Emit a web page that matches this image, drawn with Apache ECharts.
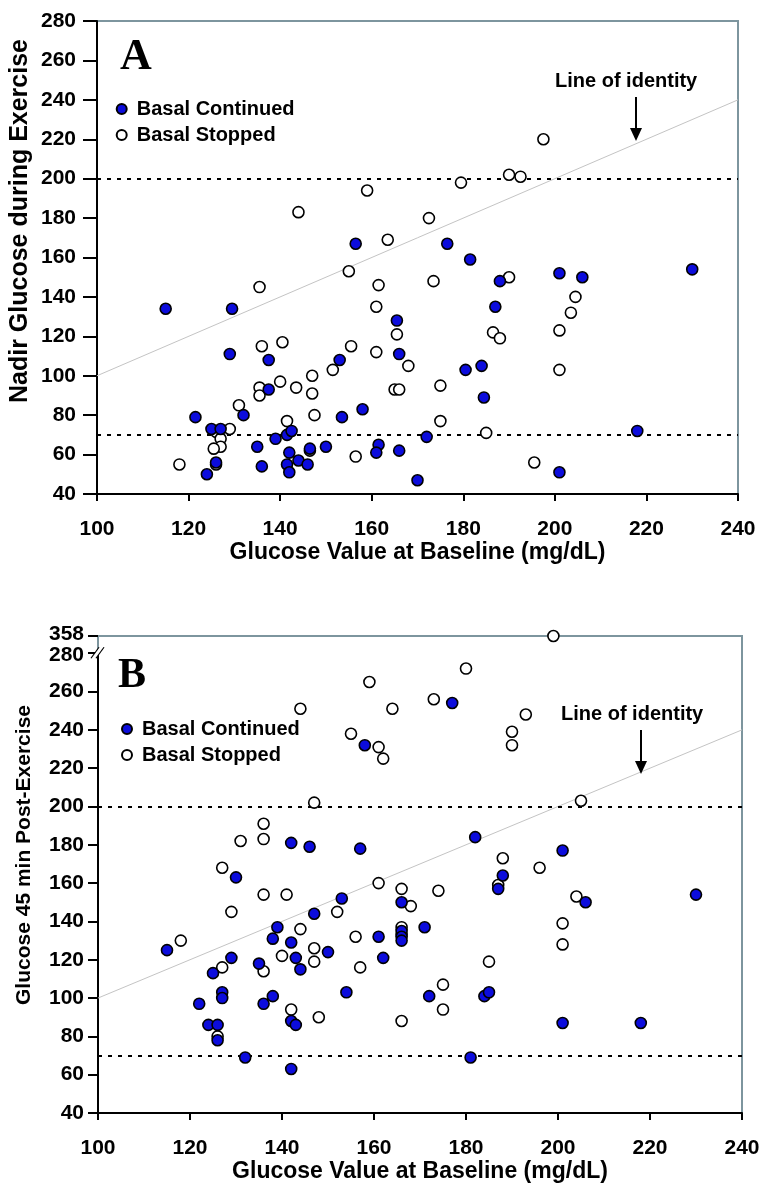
<!DOCTYPE html>
<html>
<head>
<meta charset="utf-8">
<script src="https://cdn.jsdelivr.net/npm/echarts@6/dist/echarts.min.js"></script>
<style>
html,body{margin:0;padding:0;background:#fff;}
#chart{width:771px;height:1190px;}
</style>
</head>
<body>
<div id="chart"></div>
<script>
// ---------- DATA ----------
const xTicks = [100, 120, 140, 160, 180, 200, 220, 240];
const seriesNames = ['Basal Continued', 'Basal Stopped'];

// Panel A: Nadir glucose during exercise
const aContX = [115, 129.5, 129, 137.5, 137.5, 121.5, 125, 127, 132, 135, 139, 141.5, 142.5, 142, 141.5, 142, 144, 146, 146.5, 150, 153, 153.5, 158, 165.5, 166, 161.5, 161, 166, 136, 126, 124, 170, 156.5, 176.5, 181.5, 188, 187, 201, 206, 230, 180.5, 184, 184.5, 172, 218, 201];
const aContY = [134, 134, 111, 108, 93, 79, 73, 73, 80, 64, 68, 70, 72, 61, 55, 51, 57, 55, 63, 64, 108, 79, 83, 128, 111, 65, 61, 62, 54, 56, 50, 47, 167, 167, 159, 148, 135, 152, 150, 154, 103, 105, 89, 69, 72, 51];
const aStopX = [159, 144, 163.5, 155, 161.5, 135.5, 161, 197.5, 179.5, 190, 192.5, 172.5, 173.5, 190, 204.5, 203.5, 165.5, 161, 136, 140.5, 155.5, 151.5, 168, 147, 147, 140, 143.5, 135.5, 135.5, 165, 166, 131, 147.5, 141.5, 129, 126, 127, 127, 125.5, 126, 118, 146.5, 156.5, 201, 186.5, 188, 201, 175, 175, 185, 195.5];
const aStopY = [194, 183, 169, 153, 146, 145, 135, 220, 198, 202, 201, 180, 148, 150, 140, 132, 121, 112, 115, 117, 115, 103, 105, 100, 91, 97, 94, 94, 90, 93, 93, 85, 80, 77, 73, 71.5, 68, 64, 63, 55, 55, 62, 59, 123, 122, 119, 103, 95, 77, 71, 56];

// Panel B: Glucose 45 min post-exercise
const bContX = [158, 142, 146, 157, 130, 153, 166, 177, 182, 201, 188, 187, 206, 230, 147, 139, 138, 142, 115, 143, 150, 129, 135, 125, 144, 161, 162, 166, 166, 166, 127, 127, 122, 136, 138, 154, 142, 143, 124, 126, 126, 132, 142, 171, 172, 184, 185, 201, 218, 181];
const bContY = [232, 181, 179, 178, 163, 152, 150, 254, 184, 177, 164, 157, 150, 154, 144, 137, 131, 129, 125, 121, 124, 121, 118, 113, 115, 132, 121, 135, 132, 130, 103, 100, 97, 97, 101, 103, 88, 86, 86, 86, 78, 69, 63, 137, 101, 101, 103, 87, 87, 69];
const bStopX = [159, 144, 164, 155, 161, 162, 147, 136, 136, 131, 127, 161, 166, 136, 141, 168, 199, 180, 173, 193, 190, 190, 205, 188, 196, 187, 174, 204, 129, 152, 144, 118, 147, 140, 147, 136, 127, 157, 156, 166, 166, 142, 148, 126, 166, 201, 201, 185, 175, 175];
const bStopY = [265, 251, 251, 238, 231, 225, 202, 191, 183, 182, 168, 160, 157, 154, 154, 148, 358, 272, 256, 248, 239, 232, 203, 173, 168, 159, 156, 153, 145, 145, 136, 130, 126, 122, 119, 114, 116, 116, 132, 137, 133, 94, 90, 80, 88, 139, 128, 119, 107, 94];

const identityLine = [[100, 100], [240, 240]];
const thresholds = [200, 70];

// ---------- HELPERS ----------
const pairs = (xs, ys) => xs.map((x, i) => [x, ys[i]]);
const SANS = '"Liberation Sans", Arial, Helvetica, sans-serif';
const BLUE = '#0c0cdc';

function xAxisFor(gi) {
  return {
    gridIndex: gi, type: 'value', min: 100, max: 240, interval: 20,
    name: 'Glucose Value at Baseline (mg/dL)', nameLocation: 'middle', nameGap: 44,
    nameTextStyle: { fontFamily: SANS, fontWeight: 'bold', fontSize: 23, color: '#000' },
    axisLine: { show: true, onZero: false, lineStyle: { color: '#000', width: 2 } },
    axisTick: { show: true, inside: false, length: 7, lineStyle: { color: '#000', width: 2 } },
    axisLabel: { fontFamily: SANS, fontWeight: 'bold', fontSize: 21, color: '#000', margin: 25 },
    splitLine: { show: false }
  };
}

function seriesFor(gi, contX, contY, stopX, stopY) {
  return [
    {
      name: 'Basal Stopped', type: 'scatter', xAxisIndex: gi, yAxisIndex: gi,
      data: pairs(stopX, stopY), symbol: 'circle', symbolSize: 11, clip: false, z: 5,
      itemStyle: { color: '#fff', borderColor: '#000', borderWidth: 1.6, opacity: 1 }
    },
    {
      name: 'Basal Continued', type: 'scatter', xAxisIndex: gi, yAxisIndex: gi,
      data: pairs(contX, contY), symbol: 'circle', symbolSize: 11, clip: false, z: 6,
      itemStyle: { color: BLUE, borderColor: '#000', borderWidth: 1.6, opacity: 1 }
    },
    {
      name: 'identity' + gi, type: 'line', xAxisIndex: gi, yAxisIndex: gi,
      data: identityLine, showSymbol: false, symbol: 'none', silent: true, z: 2,
      lineStyle: { color: '#c4c4c4', width: 1 },
      markLine: {
        silent: true, symbol: ['none', 'none'], label: { show: false },
        lineStyle: { color: '#000', width: 2, type: [4, 6] },
        data: thresholds.map(v => ({ yAxis: v }))
      }
    }
  ];
}

function legendFor(left, top) {
  return {
    data: seriesNames, orient: 'vertical', left: left, top: top, padding: 0,
    itemGap: 6, itemWidth: 10, itemHeight: 10, icon: 'circle', selectedMode: false,
    textStyle: { fontFamily: SANS, fontWeight: 'bold', fontSize: 20, color: '#000', padding: [0, 0, 0, 5] }
  };
}

const chart = echarts.init(document.getElementById('chart'), null, { renderer: 'canvas' });

const option = {
  animation: false,
  backgroundColor: '#fff',
  grid: [
    { left: 97, right: 33, top: 21, height: 473, show: true, borderColor: '#7d959e', borderWidth: 2, containLabel: false },
    { left: 98, right: 29, top: 636, height: 477, show: true, borderColor: '#7d959e', borderWidth: 2, containLabel: false }
  ],
  xAxis: [xAxisFor(0), xAxisFor(1)],
  yAxis: [
    {
      gridIndex: 0, type: 'value', min: 40, max: 280, interval: 20,
      axisLine: { show: true, onZero: false, lineStyle: { color: '#000', width: 2 } },
      axisTick: { show: true, inside: false, length: 14, lineStyle: { color: '#000', width: 2 } },
      axisLabel: { fontFamily: SANS, fontWeight: 'bold', fontSize: 21, color: '#000', margin: 21 },
      splitLine: { show: false }
    },
    {
      gridIndex: 1, type: 'value', min: 40, max: 358, interval: 20,
      breaks: [{ start: 280, end: 358, gap: 9 }],
      breakArea: { show: false },
      axisLine: { show: true, onZero: false, lineStyle: { color: '#000', width: 2 } },
      axisTick: { show: true, inside: false, length: 10, lineStyle: { color: '#000', width: 2 } },
      axisLabel: { fontFamily: SANS, fontWeight: 'bold', fontSize: 21, color: '#000', margin: 14, hideOverlap: false, showMaxLabel: true },
      splitLine: { show: false }
    }
  ],
  legend: [legendFor(115.7, 99), legendFor(121, 719)],
  series: [].concat(
    seriesFor(0, aContX, aContY, aStopX, aStopY),
    seriesFor(1, bContX, bContY, bStopX, bStopY)
  ),
  graphic: [
    { type: 'text', x: 120, y: 57.5, z: 10, style: { text: 'A', font: 'bold 44px "Liberation Serif", "Times New Roman", serif', fill: '#000', textVerticalAlign: 'middle' } },
    { type: 'text', x: 118, y: 676.5, z: 10, style: { text: 'B', font: 'bold 42px "Liberation Serif", "Times New Roman", serif', fill: '#000', textVerticalAlign: 'middle' } },
    { type: 'text', x: 555, y: 81.5, z: 10, style: { text: 'Line of identity', font: 'bold 20px ' + SANS, fill: '#000', textVerticalAlign: 'middle' } },
    { type: 'text', x: 561, y: 714, z: 10, style: { text: 'Line of identity', font: 'bold 20px ' + SANS, fill: '#000', textVerticalAlign: 'middle' } },
    { type: 'line', z: 10, shape: { x1: 636, y1: 97, x2: 636, y2: 130 }, style: { stroke: '#000', lineWidth: 2 } },
    { type: 'polygon', z: 10, shape: { points: [[630, 128], [642, 128], [636, 141]] }, style: { fill: '#000' } },
    { type: 'line', z: 10, shape: { x1: 641, y1: 730, x2: 641, y2: 763 }, style: { stroke: '#000', lineWidth: 2 } },
    { type: 'polygon', z: 10, shape: { points: [[635, 761], [647, 761], [641, 774]] }, style: { fill: '#000' } },
    { type: 'text', x: 20.5, y: 221, rotation: Math.PI / 2, z: 10, style: { text: 'Nadir Glucose during Exercise', font: 'bold 25px ' + SANS, fill: '#000', textAlign: 'center', textVerticalAlign: 'middle' } },
    { type: 'text', x: 24, y: 855, rotation: Math.PI / 2, z: 10, style: { text: 'Glucose 45 min Post-Exercise', font: 'bold 21px ' + SANS, fill: '#000', textAlign: 'center', textVerticalAlign: 'middle' } }
  ]
};
chart.setOption(option);

// break marker "//" on panel B y axis at the 280 break
const p = chart.convertToPixel({ gridIndex: 1 }, [100, 280]);
if (p) {
  const bx = p[0], by = p[1] - 1;
  chart.setOption({
    graphic: option.graphic.concat([
      { type: 'polygon', z: 20, shape: { points: [[bx - 7, by + 6], [bx - 2, by + 6], [bx + 6, by - 5], [bx + 1, by - 5]] }, style: { fill: '#fff' } },
      { type: 'line', z: 21, shape: { x1: bx - 7, y1: by + 6, x2: bx + 1, y2: by - 5 }, style: { stroke: '#000', lineWidth: 1.2 } },
      { type: 'line', z: 21, shape: { x1: bx - 2, y1: by + 6, x2: bx + 6, y2: by - 5 }, style: { stroke: '#000', lineWidth: 1.2 } }
    ])
  });
}
</script>
</body>
</html>
